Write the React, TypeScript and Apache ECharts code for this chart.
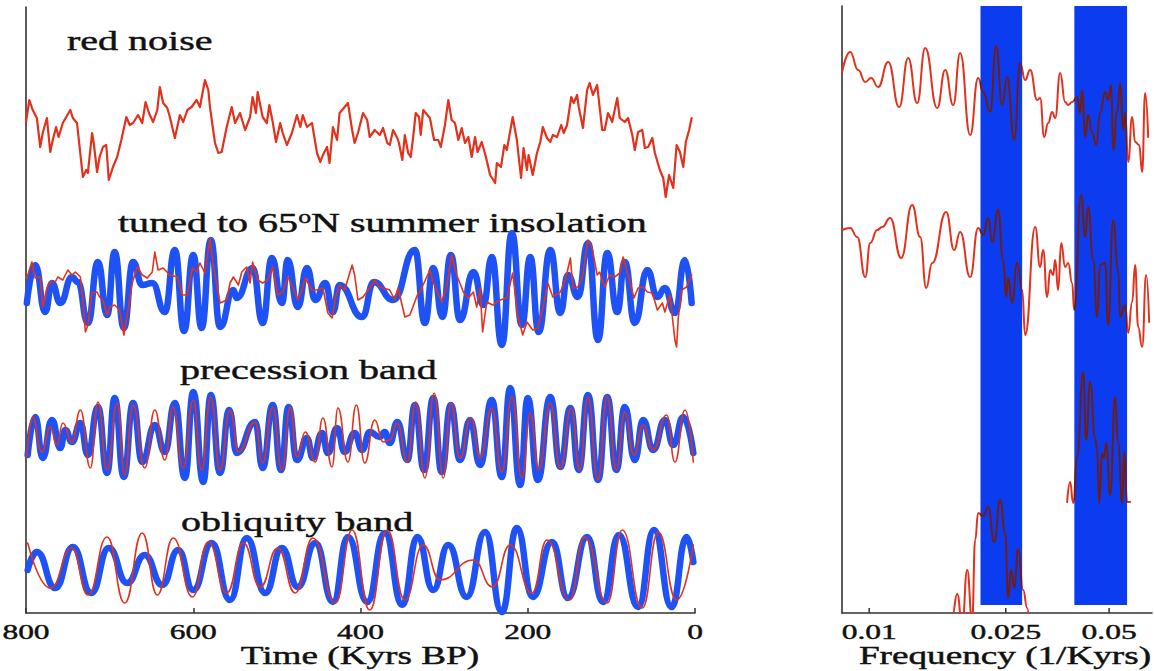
import React, { useEffect, useRef } from 'react';
import * as echarts from 'echarts';

// ---------- tick labels ----------
const TIME_TICKS = [800, 600, 400, 200, 0];
const FREQ_TICKS = [0.01, 0.025, 0.05];
const FREQ_TICK_LABELS = ['0.01', '0.025', '0.05'];

// ---------- left panel: [Kyrs BP, anomaly] ----------
const RED_NOISE = [[800,8],[796,30],[792,20],[787,12],[783,-17],[780,-3],[775,12],[771,-22],[768,-10],[764,3],[761,-7],[756,7],[747,20],[744,12],[739,7],[732,-47],[728,-40],[726,-43],[721,-3],[719,-13],[715,-42],[712,-27],[708,-17],[704,-15],[701,-50],[696,-37],[691,-27],[686,-10],[680,13],[676,5],[672,7],[666,15],[661,7],[657,28],[653,17],[648,8],[643,20],[640,43],[636,27],[631,22],[628,13],[622,-8],[616,15],[612,8],[607,20],[602,23],[596,30],[592,23],[586,50],[582,40],[580,23],[574,-13],[570,-23],[566,-22],[560,3],[554,23],[550,7],[544,17],[538,0],[532,13],[529,33],[525,17],[523,38],[517,13],[512,7],[509,25],[505,8],[501,-12],[496,7],[493,-3],[488,-15],[482,-3],[476,15],[472,3],[469,15],[464,3],[458,7],[452,-23],[448,-32],[445,-25],[440,-17],[437,-33],[433,3],[428,-10],[425,17],[419,23],[415,27],[410,0],[407,-13],[403,-3],[397,17],[392,10],[389,-7],[383,0],[377,-5],[373,2],[368,-13],[365,-15],[361,0],[356,-8],[354,-13],[350,-30],[347,-5],[343,-23],[340,-27],[337,-7],[334,17],[330,13],[328,-5],[325,20],[322,17],[317,12],[312,-10],[307,-10],[304,-17],[299,5],[295,30],[291,10],[287,7],[283,-10],[279,2],[275,-13],[271,-7],[267,-27],[263,-7],[260,-22],[255,-12],[250,-27],[245,-45],[239,-53],[237,-33],[232,-37],[228,-15],[225,-20],[218,13],[213,-10],[208,-48],[205,-18],[201,-40],[199,-25],[194,-45],[189,-23],[185,-12],[182,3],[177,-8],[173,-12],[170,-5],[165,-7],[160,5],[157,-3],[153,5],[148,33],[145,27],[141,35],[139,23],[134,2],[129,40],[126,47],[122,35],[117,45],[111,0],[108,0],[104,17],[99,8],[93,32],[90,12],[84,8],[80,12],[75,-5],[72,-20],[68,-2],[63,0],[60,-18],[56,-17],[51,-8],[48,-23],[42,-40],[38,-48],[35,-67],[31,-45],[26,-58],[22,-15],[18,-22],[14,-37],[11,-12],[7,0],[4,12]];

const TUNED_INSOLATION = [[799,-13],[789,25],[777,-22],[769,7],[759,-13],[745,13],[738,8],[726,-33],[714,28],[703,-25],[694,38],[683,-38],[672,28],[661,5],[649,7],[634,-22],[622,40],[611,-41],[600,35],[590,-38],[579,50],[568,-37],[552,0],[548,-8],[529,22],[517,-33],[506,32],[494,-13],[487,30],[475,-17],[464,22],[454,-10],[442,7],[433,-22],[425,5],[398,-27],[384,8],[361,-10],[335,40],[323,-33],[313,22],[302,-27],[292,35],[281,-30],[265,18],[253,-15],[243,33],[231,-55],[219,57],[207,-35],[197,33],[187,-42],[173,40],[161,-23],[152,15],[140,-7],[128,47],[116,-50],[105,37],[93,-22],[84,28],[72,-33],[57,20],[45,-7],[36,2],[24,-23],[12,30],[4,-13]];

const TUNED_RECORD = [[799,12],[793,28],[789,12],[783,13],[780,-17],[775,2],[771,8],[765,8],[762,13],[756,10],[750,20],[745,15],[741,18],[735,13],[732,-10],[729,-42],[726,-35],[721,-3],[715,-2],[712,-7],[708,-10],[703,-25],[700,-17],[694,-15],[688,-20],[683,-45],[678,-20],[673,7],[667,23],[661,15],[655,12],[649,18],[646,38],[642,20],[636,22],[628,15],[619,13],[613,-5],[607,-5],[601,22],[596,18],[592,27],[586,17],[580,52],[576,25],[568,-13],[560,-10],[556,7],[552,13],[546,5],[542,18],[536,23],[532,7],[529,28],[523,10],[517,7],[511,10],[505,23],[499,-5],[493,-2],[487,13],[481,3],[475,-10],[470,0],[466,12],[458,0],[452,0],[445,2],[439,-23],[434,-28],[430,-7],[425,5],[419,0],[410,25],[407,15],[403,-10],[397,-7],[389,2],[383,10],[377,3],[365,0],[359,-10],[355,2],[347,-27],[341,-25],[332,-5],[329,-2],[317,20],[313,8],[303,-12],[297,3],[291,35],[285,15],[277,-2],[271,-8],[265,-2],[261,-17],[257,2],[254,-42],[249,-12],[242,-15],[233,-10],[225,-8],[218,17],[212,-25],[206,-45],[201,-32],[194,-40],[188,-38],[182,-18],[176,7],[170,-7],[161,-2],[155,10],[149,32],[146,2],[140,3],[135,12],[128,50],[123,42],[117,15],[114,18],[108,3],[102,15],[96,13],[90,17],[86,33],[80,15],[73,-8],[68,2],[62,3],[57,-2],[51,-3],[45,-20],[39,-13],[36,-22],[30,-5],[24,-50],[22,-57],[20,-28],[16,0],[10,3],[4,15]];

const PRECESSION_INSOLATION = [[798,-15],[789,23],[780,-18],[769,20],[759,-8],[753,10],[745,-2],[735,17],[726,-15],[714,33],[703,-33],[694,42],[683,-37],[672,37],[661,-22],[646,15],[634,-12],[622,37],[610,-38],[600,48],[588,-42],[579,45],[568,-33],[557,30],[548,-13],[526,18],[517,-28],[505,35],[495,-30],[486,33],[476,-20],[464,2],[457,-18],[446,7],[439,-13],[428,12],[419,-12],[407,7],[398,-10],[389,8],[377,3],[371,8],[365,-3],[356,18],[344,-20],[335,35],[324,-30],[313,42],[303,-32],[292,35],[281,-20],[269,20],[257,-25],[243,40],[231,-37],[221,52],[209,-45],[200,42],[188,-40],[173,43],[161,-27],[149,32],[139,-30],[128,45],[116,-40],[105,43],[94,-30],[84,33],[72,-20],[62,20],[50,-10],[36,20],[26,-5],[14,23],[2,-13]];

const PRECESSION_RECORD = [[799,-17],[792,23],[781,-12],[771,13],[763,-5],[756,17],[745,-2],[735,30],[723,-28],[714,38],[703,-30],[691,37],[682,-35],[672,35],[658,-28],[646,30],[634,-20],[624,33],[612,-28],[600,40],[590,-30],[579,43],[568,-30],[556,30],[546,-12],[526,18],[517,-23],[505,33],[494,-30],[484,33],[476,-17],[466,8],[454,-22],[445,22],[434,-27],[427,32],[415,-22],[405,35],[395,-23],[383,20],[373,-2],[365,0],[356,17],[344,-22],[334,38],[323,-38],[312,47],[301,-38],[292,37],[281,-18],[268,22],[257,-18],[243,32],[231,-32],[219,43],[207,-38],[197,27],[187,-30],[173,37],[161,-28],[148,32],[138,-30],[128,43],[116,-40],[105,43],[94,-30],[84,28],[73,-15],[62,15],[50,-10],[34,25],[24,-22],[12,30],[2,-22]];

const OBLIQUITY_INSOLATION = [[798,0],[787,18],[765,-18],[744,23],[722,-23],[701,22],[679,-13],[658,15],[637,-15],[618,20],[600,-20],[578,27],[556,-30],[536,32],[514,-23],[494,22],[475,-17],[454,27],[433,-32],[415,33],[392,-32],[371,37],[350,-35],[332,33],[313,-20],[295,25],[273,-27],[251,38],[231,-42],[213,42],[194,-27],[171,28],[152,-28],[129,33],[110,-32],[91,35],[68,-37],[49,40],[28,-37],[10,33],[2,8]];

const OBLIQUITY_RECORD = [[798,27],[771,-18],[745,22],[726,-25],[703,33],[682,-33],[661,37],[643,-25],[624,32],[601,-27],[582,28],[560,-23],[540,27],[520,-17],[499,22],[478,-23],[457,32],[430,-33],[410,40],[389,-40],[368,40],[347,-30],[325,25],[305,-10],[265,10],[242,-17],[221,25],[195,-23],[177,30],[150,-30],[132,33],[105,-33],[87,40],[63,-38],[44,38],[22,-30],[2,25]];

// ---------- right panel: [frequency 1/Kyrs, log power] ----------
const SPEC_RED_NOISE = [[0.00834,541],[0.0088,561],[0.00929,543],[0.00974,531],[0.01013,535],[0.01062,526],[0.01136,551],[0.01223,506],[0.01299,555],[0.0138,510],[0.01456,565],[0.01578,505],[0.01665,543],[0.01757,508],[0.01841,560],[0.01969,478],[0.02077,535],[0.02148,521],[0.02251,501],[0.02344,567],[0.0244,508],[0.02523,536],[0.02645,473],[0.02753,550],[0.02847,533],[0.02944,543],[0.03086,513],[0.03148,515],[0.03234,476],[0.03322,490],[0.03412,501],[0.03482,495],[0.036,540],[0.03723,511],[0.03799,508],[0.03902,511],[0.04035,516],[0.04117,500],[0.04173,523],[0.04257,476],[0.04344,498],[0.04462,480],[0.04584,468],[0.04708,500],[0.04868,521],[0.04967,513],[0.05069,528],[0.05137,463],[0.05277,501],[0.05384,530],[0.05494,483],[0.05568,500],[0.05681,451],[0.05835,496],[0.05954,471],[0.06116,468],[0.0624,441],[0.06367,520],[0.06497,476]];

const SPEC_TUNED = [[0.00834,383],[0.0088,385],[0.00923,376],[0.00974,336],[0.01007,370],[0.01055,383],[0.01091,386],[0.01151,395],[0.01239,355],[0.01334,408],[0.01408,376],[0.01466,325],[0.01526,350],[0.01676,401],[0.01768,363],[0.01841,381],[0.01969,336],[0.02077,385],[0.02148,378],[0.02221,395],[0.02282,371],[0.02375,403],[0.02456,353],[0.02507,316],[0.0254,335],[0.02609,310],[0.02698,350],[0.0279,323],[0.02847,278],[0.03045,386],[0.03148,346],[0.03212,363],[0.033,316],[0.03367,343],[0.03435,338],[0.03482,353],[0.03552,323],[0.03625,370],[0.03723,346],[0.03799,350],[0.03902,330],[0.03955,303],[0.04145,418],[0.04257,376],[0.04344,406],[0.04493,353],[0.04615,296],[0.04708,348],[0.04868,350],[0.04967,288],[0.05137,393],[0.05312,343],[0.05384,296],[0.05568,308],[0.05681,280],[0.05835,311],[0.05954,348],[0.06075,286],[0.0624,266],[0.0641,338],[0.0654,291]];

const SPEC_OBLIQUITY = [[0.01687,-10],[0.01745,-3],[0.01805,19],[0.01866,-12],[0.0193,43],[0.01995,-8],[0.02036,73],[0.02077,100],[0.02148,97],[0.02221,106],[0.02313,71],[0.02408,113],[0.0249,80],[0.0254,15],[0.02592,43],[0.02645,25],[0.02716,64],[0.02809,23],[0.02886,5],[0.02924,-10]];

const SPEC_PRECESSION = [[0.03773,111],[0.0385,131],[0.03928,110],[0.04035,156],[0.04201,241],[0.04286,173],[0.04403,231],[0.04553,175],[0.04615,163],[0.04677,110],[0.04772,160],[0.04836,155],[0.04902,170],[0.05035,118],[0.05206,216],[0.05312,170],[0.05457,110],[0.05531,161],[0.05643,111],[0.05758,111]];

const OBLIQUITY_BAND = [0.0211, 0.0279];
const PRECESSION_BAND = [0.0396, 0.0564];

// ---------- style / layout ----------
const RED = '#e2321d';
const BLUE = '#1f52f4';
const BAND = '#0c3cf0';
const DARK = '#6e1d16';
const AXIS = '#333333';
const INK = '#111111';
const SERIF = '"Liberation Serif", "Times New Roman", Times, serif';
const SX = 1.43;
const ROW_BASE = [483, 323, 173, 43];

const shift = (rows: number[][], base: number) => rows.map(([t, a]) => [t, base + a]);

function line(data: number[][], color: string | null, width: number, smooth: number | boolean, grid: number, extra: any = {}) {
  const lineStyle: any = { width, join: 'round', cap: 'round' };
  if (color) lineStyle.color = color;
  return {
    type: 'line', data, xAxisIndex: grid, yAxisIndex: grid, symbol: 'none', showSymbol: false,
    smooth, smoothMonotone: 'x', silent: true, clip: true,
    lineStyle,
    emphasis: { disabled: true },
    ...extra,
  };
}

function txt(text: string, x: number, y: number, size: number, align: string, rich?: any) {
  const font = `${size}px ${SERIF}`;
  return {
    type: 'text', x, y, scaleX: SX, silent: true,
    style: {
      text, font, fill: INK, stroke: INK, lineWidth: 0.45,
      align, verticalAlign: 'middle', textAlign: align, textVerticalAlign: 'middle',
      ...(rich ? { rich } : {}),
    },
  };
}

function buildOption() {
  const axisLine = { show: true, onZero: false, lineStyle: { color: AXIS, width: 1.6 } };
  return {
    animation: false,
    grid: [
      { left: 26, top: 7, width: 669, height: 606 },
      { left: 842, top: 6, width: 310, height: 607 },
    ],
    xAxis: [
      {
        type: 'value', gridIndex: 0, min: 0, max: 800, interval: 200, inverse: true,
        axisLine, axisTick: { show: true, inside: true, length: 5, lineStyle: { color: AXIS, width: 1.5 } },
        axisLabel: { show: false }, splitLine: { show: false },
      },
      {
        type: 'log', gridIndex: 1, logBase: 10, min: 1 / 120, max: 1 / 15,
        axisLine, axisTick: { show: false }, axisLabel: { show: false },
        splitLine: { show: false }, minorTick: { show: false }, minorSplitLine: { show: false },
      },
    ],
    yAxis: [
      { type: 'value', gridIndex: 0, min: 0, max: 606, axisLine, axisTick: { show: false }, axisLabel: { show: false }, splitLine: { show: false } },
      { type: 'value', gridIndex: 1, min: 0, max: 607, axisLine, axisTick: { show: false }, axisLabel: { show: false }, splitLine: { show: false } },
    ],
    visualMap: {
      type: 'piecewise', show: false, dimension: 0, seriesIndex: [7, 8, 9, 10],
      pieces: [
        { gte: OBLIQUITY_BAND[0], lte: OBLIQUITY_BAND[1], color: DARK },
        { gte: PRECESSION_BAND[0], lte: PRECESSION_BAND[1], color: DARK },
      ],
      outOfRange: { color: RED },
    },
    series: [
      line(shift(RED_NOISE, ROW_BASE[0]), RED, 2.2, false, 0),
      line(shift(TUNED_INSOLATION, ROW_BASE[1]), BLUE, 6.5, 0.5, 0),
      line(shift(TUNED_RECORD, ROW_BASE[1]), RED, 1.6, false, 0),
      line(shift(PRECESSION_INSOLATION, ROW_BASE[2]), BLUE, 6.5, 0.5, 0),
      line(shift(PRECESSION_RECORD, ROW_BASE[2]), RED, 1.6, 0.5, 0),
      line(shift(OBLIQUITY_INSOLATION, ROW_BASE[3]), BLUE, 6.5, 0.5, 0),
      line(shift(OBLIQUITY_RECORD, ROW_BASE[3]), RED, 1.6, 0.5, 0),
      line(SPEC_RED_NOISE, null, 2, 0.5, 1, {
        markArea: {
          silent: true,
          label: { show: false },
          itemStyle: { color: BAND, opacity: 1, borderWidth: 0 },
          data: [
            [{ xAxis: OBLIQUITY_BAND[0], yAxis: 8 }, { xAxis: OBLIQUITY_BAND[1], yAxis: 607 }],
            [{ xAxis: PRECESSION_BAND[0], yAxis: 8 }, { xAxis: PRECESSION_BAND[1], yAxis: 607 }],
          ],
        },
      }),
      line(SPEC_TUNED, null, 2, 0.5, 1),
      line(SPEC_OBLIQUITY, null, 2, 0.5, 1),
      line(SPEC_PRECESSION, null, 2, 0.5, 1),
    ],
  };
}

export default function App() {
  const ref = useRef<HTMLDivElement>(null);
  useEffect(() => {
    if (!ref.current) return;
    const chart = echarts.init(ref.current, null, { renderer: 'svg' });
    chart.setOption(buildOption());

    const bottom = chart.convertToPixel({ yAxisIndex: 0 }, 0) as number;
    const els: any[] = [];
    els.push(txt('red noise', 67, 40, 28, 'left'));
    els.push(txt('tuned to 65{sup|o}N summer insolation', 118, 222, 28, 'left', {
      sup: { font: `18px ${SERIF}`, fill: INK, stroke: INK, lineWidth: 0.4, verticalAlign: 'top' },
    }));
    els.push(txt('precession band', 180, 369, 28, 'left'));
    els.push(txt('obliquity band', 181, 521, 28, 'left'));
    TIME_TICKS.forEach((v) => {
      const px = chart.convertToPixel({ xAxisIndex: 0 }, v) as number;
      els.push(txt(String(v), px, bottom + 19, 22, 'center'));
    });
    FREQ_TICKS.forEach((v, i) => {
      const px = chart.convertToPixel({ xAxisIndex: 1 }, v) as number;
      els.push({
        type: 'line', silent: true,
        shape: { x1: px, y1: bottom, x2: px, y2: bottom - 5 },
        style: { stroke: AXIS, lineWidth: 1.5 },
      });
      els.push(txt(FREQ_TICK_LABELS[i], px, bottom + 19, 22, 'center'));
    });
    els.push(txt('Time (Kyrs BP)', 360, 655, 26, 'center'));
    els.push(txt('Frequency (1/Kyrs)', 1005, 655, 26, 'center'));
    chart.setOption({ graphic: els });

    return () => chart.dispose();
  }, []);
  return (
    <div
      ref={ref}
      style={{ position: 'fixed', left: 0, top: 0, width: 1154, height: 671, background: '#ffffff' }}
    />
  );
}
